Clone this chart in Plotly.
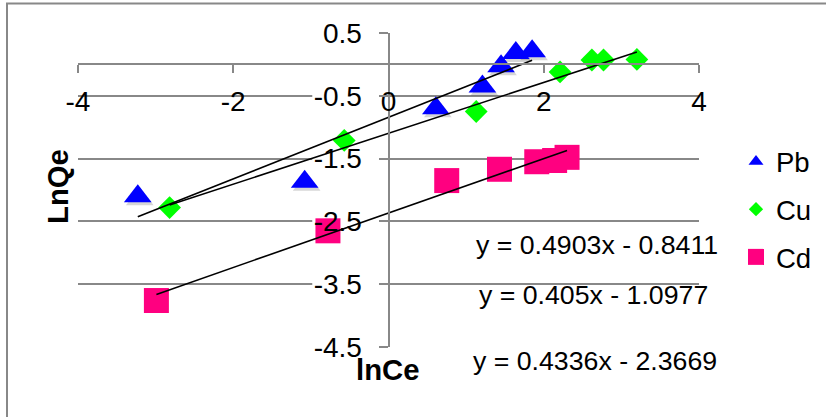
import plotly.graph_objects as go

# Freundlich isotherm data: ln(Ce) vs ln(Qe) for three metals
pb_x = [-3.23, -1.08, 0.61, 1.21, 1.45, 1.64, 1.85]
pb_y = [-2.10, -1.87, -0.70, -0.35, -0.03, 0.18, 0.21]
cu_x = [-2.82, -0.57, 1.13, 2.21, 2.62, 2.77, 3.20]
cu_y = [-2.28, -1.21, -0.75, -0.12, 0.07, 0.07, 0.08]
cd_x = [-2.99, -0.78, 0.75, 1.43, 1.91, 2.14, 2.30]
cd_y = [-3.76, -2.65, -1.85, -1.67, -1.55, -1.53, -1.48]

# linear trendline coefficients (slope, intercept)
pb_fit = (0.4903, -0.8411)
cu_fit = (0.405, -1.0977)
cd_fit = (0.4336, -2.3669)

x_ticks = [-4, -2, 0, 2, 4]
x_tick_text = ["-4", "-2", "0", "2", "4"]
y_ticks = [0.5, -0.5, -1.5, -2.5, -3.5, -4.5]
y_tick_text = ["0.5", "-0.5", "-1.5", "-2.5", "-3.5", "-4.5"]

FONT = "Liberation Sans, Arial, sans-serif"
GRID = "#888888"
BLUE, GREEN, PINK = "#0000FF", "#00FF00", "#FF0080"
TICK_SIZE = 28

W, H = 826, 417
L, R, T, B = 78, 127, 33, 70
PW, PH = W - L - R, H - T - B
unit_x = PW / 8.0   # pixels per x unit
unit_y = PH / 5.0   # pixels per y unit


def px_x(p):
    return (p - L) / PW


def px_y(p):
    return (H - B - p) / PH


fig = go.Figure()

series = [
    ("Pb", pb_x, pb_y, "triangle-up", 24, BLUE, 13),
    ("Cu", cu_x, cu_y, "diamond", 17.5, GREEN, 11),
    ("Cd", cd_x, cd_y, "square", 25, PINK, 16.5),
]

# soft drop shadow under the lead triangles
fig.add_trace(go.Scatter(
    x=[v + 2 / unit_x for v in pb_x], y=[v - 3 / unit_y for v in pb_y],
    mode="markers", showlegend=False, hoverinfo="skip",
    marker=dict(symbol="triangle-up", size=24, color="rgba(0,0,0,0.16)",
                line=dict(width=0)),
))

for name, xs, ys, sym, size, col, _ in series:
    fig.add_trace(go.Scatter(
        x=xs, y=ys, mode="markers", name=name, showlegend=False,
        marker=dict(symbol=sym, size=size, color=col, line=dict(width=0)),
    ))

# trendlines across each series' x range
for (name, xs, ys, *_), (a, b) in zip(series, [pb_fit, cu_fit, cd_fit]):
    x0, x1 = min(xs), max(xs)
    fig.add_trace(go.Scatter(
        x=[x0, x1], y=[a * x0 + b, a * x1 + b], mode="lines",
        line=dict(color="black", width=1.6), showlegend=False, hoverinfo="skip",
    ))

# legend entries
for name, xs, ys, sym, size, col, lsize in series:
    fig.add_trace(go.Scatter(
        x=[None], y=[None], mode="markers", name=name, legendgroup=name,
        marker=dict(symbol=sym, size=lsize, color=col),
    ))

# white boxes behind the y tick labels, hiding the gridline there
for txt, v in zip(y_tick_text, y_ticks):
    w_px = TICK_SIZE * (0.556 * sum(c.isdigit() for c in txt)
                        + 0.278 * txt.count(".") + 0.333 * txt.count("-"))
    fig.add_shape(type="rect", layer="between", xref="x", yref="y",
                  x0=-(27 + w_px + 1) / unit_x, x1=-9 / unit_x,
                  y0=v - 0.06, y1=v + 0.06,
                  fillcolor="white", line=dict(width=0))

# outer chart frame (left and top edges visible)
fig.add_shape(type="line", xref="paper", yref="paper",
              x0=px_x(7), x1=px_x(7), y0=px_y(3), y1=px_y(430),
              line=dict(color=GRID, width=2))
fig.add_shape(type="line", xref="paper", yref="paper",
              x0=px_x(6), x1=px_x(840), y0=px_y(3.5), y1=px_y(3.5),
              line=dict(color=GRID, width=2))

eqs = [
    (pb_fit, 597, 245),
    (cu_fit, 593, 295),
    (cd_fit, 595, 361),
]
for (a, b), cx, cy in eqs:
    fig.add_annotation(
        text=f"y = {a}x - {abs(b)}", xref="paper", yref="paper",
        x=px_x(cx), y=px_y(cy), xanchor="center", yanchor="middle",
        showarrow=False, font=dict(family=FONT, size=26.7, color="black"),
    )

fig.add_annotation(text="<b>lnCe</b>", xref="paper", yref="paper",
                   x=px_x(388), y=px_y(369), xanchor="center", yanchor="middle",
                   showarrow=False, font=dict(family=FONT, size=29.3, color="black"))
fig.add_annotation(text="<b>LnQe</b>", xref="paper", yref="paper",
                   x=px_x(57), y=px_y(187), xanchor="center", yanchor="middle",
                   textangle=-90, showarrow=False,
                   font=dict(family=FONT, size=29.3, color="black"))

fig.update_layout(
    width=W, height=H,
    margin=dict(l=L, r=R, t=T, b=B, autoexpand=False),
    paper_bgcolor="white", plot_bgcolor="white",
    font=dict(family=FONT, color="black"),
    showlegend=True,
    legend=dict(
        x=px_x(736), y=px_y(137), xanchor="left", yanchor="top",
        font=dict(family=FONT, size=27.5, color="black"),
        traceorder="grouped", tracegroupgap=9, itemsizing="trace",
        bgcolor="rgba(0,0,0,0)",
    ),
    xaxis=dict(
        range=[-4, 4], anchor="free", position=0.9,
        showline=True, linecolor=GRID, linewidth=2,
        ticks="outside", ticklen=8, tickwidth=2, tickcolor=GRID,
        tickvals=x_ticks, ticktext=x_tick_text, ticklabelstandoff=4,
        tickfont=dict(family=FONT, size=TICK_SIZE, color="black"),
        showgrid=False, zeroline=False,
    ),
    yaxis=dict(
        range=[-4.5, 0.5], anchor="free", position=0.5,
        showline=True, linecolor=GRID, linewidth=2,
        ticks="outside", ticklen=9, tickwidth=2, tickcolor=GRID,
        tickvals=y_ticks, ticktext=y_tick_text, ticklabelstandoff=11,
        tickfont=dict(family=FONT, size=TICK_SIZE, color="black"),
        showgrid=True, gridcolor=GRID, gridwidth=2, zeroline=False,
    ),
)

fig.write_html("out.html")
